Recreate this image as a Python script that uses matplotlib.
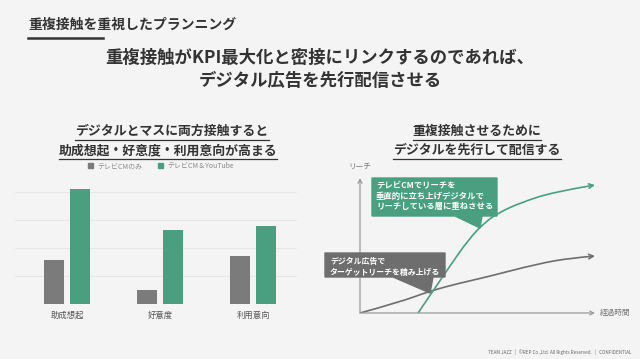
import matplotlib
matplotlib.use('Agg')
import matplotlib.pyplot as plt
import numpy as np
from matplotlib.patches import Polygon, FancyArrowPatch, Rectangle
from matplotlib.path import Path
from matplotlib.lines import Line2D

plt.rcParams['font.family'] = ['Noto Sans CJK JP', 'DejaVu Sans']

# --- data ---
categories = ['助成想起', '好意度', '利用意向']
tv_only = [15.7, 5.0, 17.1]
tv_youtube = [41.1, 26.4, 27.9]
series_names = ['テレビCMのみ', 'テレビCM＆YouTube']

# reach curves (time, reach), right-hand chart
tv_time = [24.7, 31.9, 38.3, 46.0, 53.2, 59.6, 68.1, 82.1, 100]
tv_reach = [0, 18.5, 34.8, 54.1, 67.4, 74.8, 81.5, 89.6, 94.8]
dg_time = [0, 17.0, 29.8, 42.6, 54.0, 75.3, 89.4, 100]
dg_reach = [0, 8.1, 16.3, 22.2, 26.7, 36.3, 40.7, 42.2]

GREEN = '#4a9f80'
GRAY = '#7b7b7b'
DARK = '#333333'
BG = '#f4f4f4'

W, H = 640, 359
fig = plt.figure(figsize=(6.4, 3.59), dpi=100, facecolor=BG)


def fx(px):
    return px / W


def fy(py):
    return 1 - py / H


def txt(px, py, s, **kw):
    return fig.text(fx(px), fy(py), s, **kw)


# headings
txt(28, 25, '重複接触を重視したプランニング', fontsize=10, fontweight='bold',
    color=DARK, va='center')
fig.add_artist(Line2D([fx(28), fx(103)], [fy(38), fy(38)], color=DARK, lw=1.8))
txt(320, 58, '重複接触がKPI最大化と密接にリンクするのであれば、', fontsize=12.5,
    fontweight='bold', color=DARK, ha='center', va='center')
txt(320, 81, 'デジタル広告を先行配信させる', fontsize=12.5,
    fontweight='bold', color=DARK, ha='center', va='center')

subs = [
    txt(172, 131, 'デジタルとマスに両方接触すると', fontsize=9.3, fontweight='bold',
        color=DARK, ha='center', va='center'),
    txt(168, 150, '助成想起・好意度・利用意向が高まる', fontsize=9.3, fontweight='bold',
        color=DARK, ha='center', va='center'),
    txt(477, 131, '重複接触させるために', fontsize=9.3, fontweight='bold',
        color=DARK, ha='center', va='center'),
    txt(477, 150, 'デジタルを先行して配信する', fontsize=9.3, fontweight='bold',
        color=DARK, ha='center', va='center'),
]

# --- bar chart ---
ax = fig.add_axes([fx(15), fy(304), (297 - 15) / W, (304 - 180.8) / H])
ax.set_facecolor('none')
x = np.arange(len(categories))
w = 0.215
ax.bar(x - 0.14, tv_only, w, color=GRAY, zorder=2)
ax.bar(x + 0.14, tv_youtube, w, color=GREEN, zorder=2)
ax.set_xlim(-0.56, 2.47)
ax.set_ylim(0, 44)
ax.set_yticks([10, 20, 30, 40])
ax.yaxis.grid(True, color='#e6e6e6', lw=0.7, zorder=0)
ax.tick_params(length=0, labelleft=False)
ax.set_xticks(x)
ax.set_xticklabels(categories, fontsize=6, color='#555555')
ax.tick_params(axis='x', pad=5)
for s in ax.spines.values():
    s.set_visible(False)

# legend
fig.add_artist(Rectangle((fx(88), fy(168)), 5 / W, 5 / H, color=GRAY,
                         transform=fig.transFigure))
txt(97, 166, series_names[0], fontsize=5, color='#888888', va='center')
fig.add_artist(Rectangle((fx(158), fy(168)), 5 / W, 5 / H, color=GREEN,
                         transform=fig.transFigure))
txt(167, 166, series_names[1], fontsize=5, color='#888888', va='center')

# --- reach chart ---
ax2 = fig.add_axes([fx(360), fy(313), (595 - 360) / W, (313 - 178) / H])
ax2.set_facecolor('none')
ax2.set_xlim(0, 100)
ax2.set_ylim(0, 100)
ax2.axis('off')
for xy in [(1, 0), (0, 1)]:
    ax2.annotate('', xy=xy, xytext=(0, 0), xycoords='axes fraction',
                 arrowprops=dict(arrowstyle='->', color='#9a9a9a', lw=0.9,
                                 shrinkA=0, shrinkB=0, mutation_scale=7))
txt(360, 167, 'リーチ', fontsize=5.5, color='#777777', ha='center', va='center')
txt(600, 313, '経過時間', fontsize=5.5, color='#777777', va='center')


def smooth_path(xs, ys):
    pts = list(zip(xs, ys))
    verts = [pts[0]]
    codes = [Path.MOVETO]
    for i in range(1, len(pts) - 1):
        nxt = pts[i + 1] if i + 1 < len(pts) - 1 else pts[-1]
        mid = ((pts[i][0] + nxt[0]) / 2, (pts[i][1] + nxt[1]) / 2) \
            if i + 1 < len(pts) - 1 else pts[-1]
        verts += [pts[i], mid]
        codes += [Path.CURVE3, Path.CURVE3]
    return Path(verts, codes)


for xs, ys, c in [(dg_time, dg_reach, '#6e6e6e'), (tv_time, tv_reach, GREEN)]:
    arr = FancyArrowPatch(path=smooth_path(xs, ys), arrowstyle='->',
                          mutation_scale=8, color=c, lw=1.2,
                          transform=ax2.transData)
    ax2.add_patch(arr)

# callouts
green_box = [(372, 178), (497, 178), (497, 216), (482, 216), (480, 228),
             (455, 216), (372, 216)]
gray_box = [(325, 253), (445, 253), (445, 277), (433, 277), (430, 293),
            (393, 277), (325, 277)]
fig.add_artist(Polygon([(fx(a), fy(b)) for a, b in green_box], closed=True,
                       color=GREEN, transform=fig.transFigure, zorder=5))
fig.add_artist(Polygon([(fx(a), fy(b)) for a, b in gray_box], closed=True,
                       color='#6e6e6e', transform=fig.transFigure, zorder=5))
txt(376, 196, 'テレビCMでリーチを\n垂直的に立ち上げデジタルで\nリーチしている層に重ねさせる',
    fontsize=6, fontweight='bold', color='white', va='center',
    linespacing=1.15, zorder=6)
txt(330, 267, 'デジタル広告で\nターゲットリーチを積み上げる', fontsize=5.7,
    fontweight='bold', color='white', va='center', linespacing=1.15, zorder=6)

# footer
txt(632, 352, 'TEAM JAZZ   |   ©REP Co.,Ltd. All Rights Reserved.   |   CONFIDENTIAL',
    fontsize=3.3, color='#666666', ha='right', va='center')

# underline the sub headings
fig.canvas.draw()
r = fig.canvas.get_renderer()
for t in subs:
    bb = t.get_window_extent(r).transformed(fig.transFigure.inverted())
    fig.add_artist(Line2D([bb.x0, bb.x1], [bb.y0 - 1.5 / H] * 2,
                          color=DARK, lw=0.9))

fig.savefig('out.png', dpi=100, facecolor=BG)
